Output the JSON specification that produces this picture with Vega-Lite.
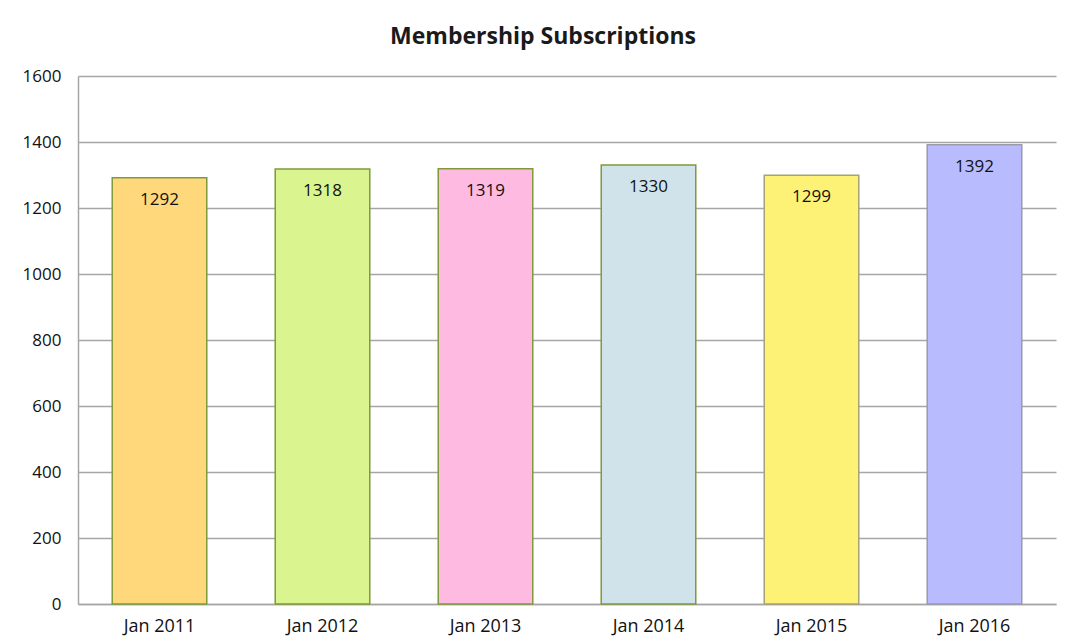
{
  "$schema": "https://vega.github.io/schema/vega-lite/v6.json",
  "width": 978,
  "height": 528,
  "autosize": "none",
  "padding": {"left": 78, "top": 76, "right": 36, "bottom": 37},
  "background": "white",
  "title": {
    "text": "Membership Subscriptions",
    "font": "Open Sans",
    "fontSize": 23,
    "fontWeight": "bold",
    "color": "#1a1a1a",
    "anchor": "middle",
    "dx": -24,
    "offset": 18
  },
  "data": {
    "values": [
      {"month": "Jan 2011", "subs": 1292, "fill": "#FED87A", "edge": "#7E9A3A"},
      {"month": "Jan 2012", "subs": 1318, "fill": "#DAF590", "edge": "#7E9A3A"},
      {"month": "Jan 2013", "subs": 1319, "fill": "#FEBAE0", "edge": "#7E9A3A"},
      {"month": "Jan 2014", "subs": 1330, "fill": "#D0E3EA", "edge": "#7E9A3A"},
      {"month": "Jan 2015", "subs": 1299, "fill": "#FEF276", "edge": "#A3A37A"},
      {"month": "Jan 2016", "subs": 1392, "fill": "#B8BCFE", "edge": "#9A9AA8"}
    ]
  },
  "encoding": {
    "x": {
      "field": "month",
      "type": "nominal",
      "sort": null,
      "scale": {"paddingInner": 0.42, "paddingOuter": 0.21},
      "axis": {
        "title": null,
        "labelAngle": 0,
        "labelFont": "Open Sans",
        "labelFontSize": 18,
        "labelColor": "#111111",
        "labelPadding": 13,
        "ticks": false,
        "domainColor": "#A6A6A6",
        "domainWidth": 1.5,
        "grid": false
      }
    },
    "y": {
      "field": "subs",
      "type": "quantitative",
      "scale": {"domain": [0, 1600], "nice": false},
      "axis": {
        "title": null,
        "format": "d",
        "values": [0, 200, 400, 600, 800, 1000, 1200, 1400, 1600],
        "labelFont": "Open Sans",
        "labelFontSize": 17,
        "labelColor": "#111111",
        "labelPadding": 17,
        "ticks": false,
        "domainColor": "#A6A6A6",
        "domainWidth": 1.5,
        "gridColor": "#A6A6A6",
        "gridWidth": 1.5
      }
    }
  },
  "layer": [
    {
      "mark": {"type": "bar", "strokeWidth": 1.5},
      "encoding": {
        "fill": {"field": "fill", "type": "nominal", "scale": null},
        "stroke": {"field": "edge", "type": "nominal", "scale": null}
      }
    },
    {
      "mark": {"type": "text", "baseline": "middle", "dy": 22, "font": "Open Sans", "fontSize": 17, "color": "#111111"},
      "encoding": {
        "text": {"field": "subs", "type": "quantitative", "format": "d"}
      }
    }
  ],
  "config": {"view": {"stroke": null}}
}
